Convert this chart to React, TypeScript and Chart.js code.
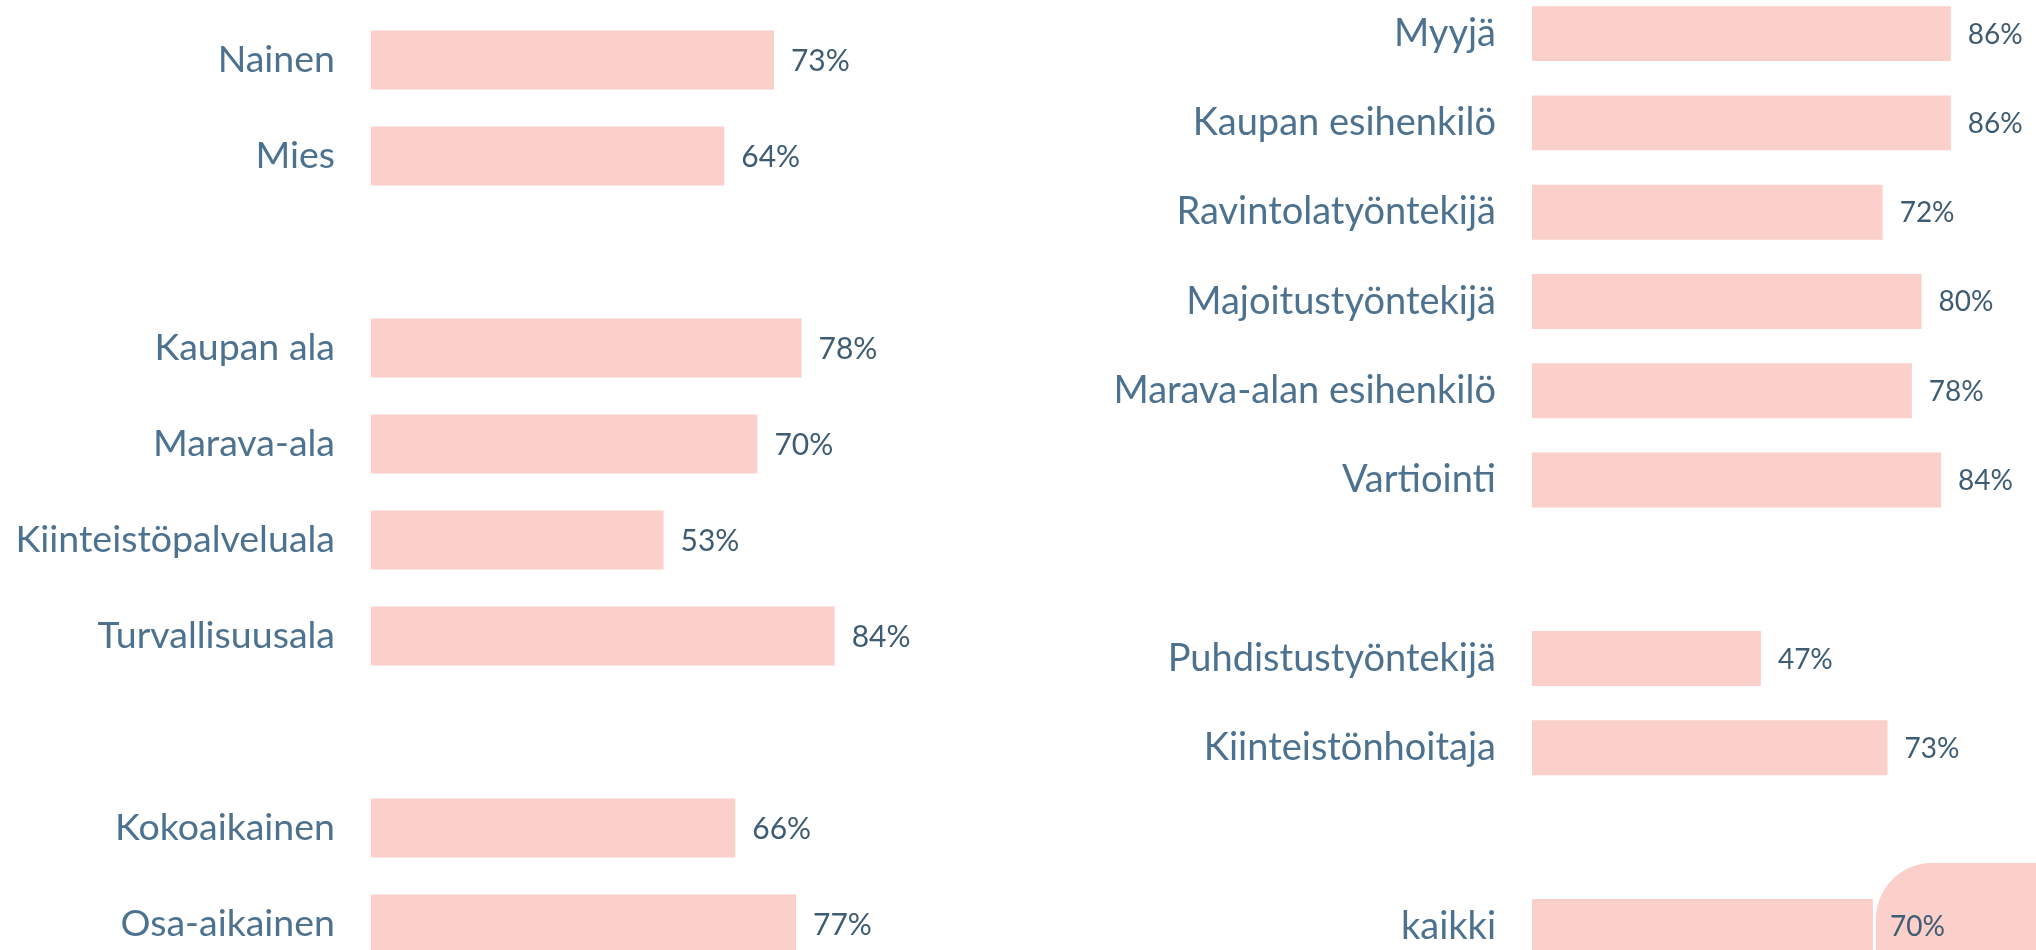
import React, { useEffect, useRef } from "react";
import { Chart, registerables } from "chart.js";

Chart.register(...registerables);

const leftCategories = ["Nainen", "Mies", "", "Kaupan ala", "Marava-ala", "Kiinteistöpalveluala", "Turvallisuusala", "", "Kokoaikainen", "Osa-aikainen"];
const leftValues: (number | null)[] = [73, 64, null, 78, 70, 53, 84, null, 66, 77];

const rightCategories = ["Myyjä", "Kaupan esihenkilö", "Ravintolatyöntekijä", "Majoitustyöntekijä", "Marava-alan esihenkilö", "Vartiointi", "", "Puhdistustyöntekijä", "Kiinteistönhoitaja", "", "kaikki"];
const rightValues: (number | null)[] = [86, 86, 72, 80, 78, 84, null, 47, 73, null, 70];

const BAR_COLOR = "#FBCFCA";
const LABEL_COLOR = "#4D7290";
const VALUE_COLOR = "#3E5C74";
const FONT = "Lato";

function valueLabelPlugin(size: number, offset: number) {
  return {
    id: "valueLabels",
    afterDatasetsDraw(chart: any) {
      const ctx = chart.ctx;
      const meta = chart.getDatasetMeta(0);
      const data = chart.data.datasets[0].data;
      ctx.save();
      ctx.font = `${size}px ${FONT}`;
      ctx.fillStyle = VALUE_COLOR;
      ctx.textAlign = "left";
      ctx.textBaseline = "middle";
      meta.data.forEach((bar: any, i: number) => {
        const v = data[i];
        if (v == null) return;
        ctx.fillText(`${v}%`, bar.x + offset, bar.y + 1);
      });
      ctx.restore();
    },
  };
}

type PanelProps = {
  categories: string[];
  values: (number | null)[];
  width: number;
  height: number;
  axisWidth: number;
  padRight: number;
  labelSize: number;
  valueSize: number;
  barPct: number;
  style: React.CSSProperties;
};

function Panel(p: PanelProps) {
  const ref = useRef<HTMLCanvasElement | null>(null);
  useEffect(() => {
    if (!ref.current) return;
    const chart = new Chart(ref.current, {
      type: "bar",
      data: {
        labels: p.categories,
        datasets: [
          {
            data: p.values as any,
            backgroundColor: BAR_COLOR,
            borderWidth: 0,
            barPercentage: p.barPct,
            categoryPercentage: 1,
          },
        ],
      },
      options: {
        indexAxis: "y",
        responsive: false,
        animation: false,
        layout: { padding: { left: 0, right: p.padRight, top: 0, bottom: 0 } },
        plugins: { legend: { display: false }, tooltip: { enabled: false } },
        scales: {
          x: { display: false, min: 0, max: 100 },
          y: {
            grid: { display: false, drawTicks: false },
            border: { display: false },
            ticks: {
              padding: 36,
              color: LABEL_COLOR,
              font: { family: FONT, size: p.labelSize },
            },
            afterFit: (s: any) => {
              s.width = p.axisWidth;
              s.paddingTop = 0;
              s.paddingBottom = 0;
            },
          },
        },
      },
      plugins: [valueLabelPlugin(p.valueSize, 17)],
    });
    return () => chart.destroy();
  }, []);
  return (
    <canvas
      ref={ref}
      width={p.width}
      height={p.height}
      style={{ position: "absolute", width: p.width, height: p.height, ...p.style }}
    />
  );
}

export default function App() {
  return (
    <div
      style={{
        position: "fixed",
        left: 0,
        top: 0,
        width: 2036,
        height: 950,
        overflow: "hidden",
        background: "#ffffff",
      }}
    >
      <div
        style={{
          position: "absolute",
          left: 1876,
          top: 863,
          width: 200,
          height: 150,
          background: BAR_COLOR,
          borderTopLeftRadius: 56,
          zIndex: 0,
        }}
      />
      <Panel
        categories={leftCategories}
        values={leftValues}
        width={1000}
        height={960}
        axisWidth={371}
        padRight={1000 - 923}
        labelSize={37.5}
        valueSize={30}
        barPct={0.615}
        style={{ left: 0, top: 12, zIndex: 1 }}
      />
      <Panel
        categories={rightCategories}
        values={rightValues}
        width={986}
        height={982}
        axisWidth={482}
        padRight={17}
        labelSize={38}
        valueSize={28}
        barPct={0.615}
        style={{ left: 1050, top: -11, zIndex: 1 }}
      />
    </div>
  );
}
